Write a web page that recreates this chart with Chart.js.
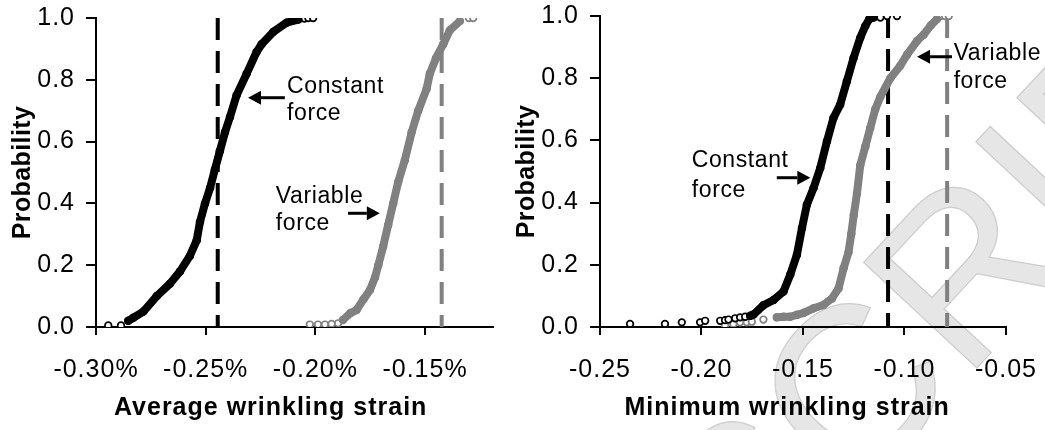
<!DOCTYPE html>
<html><head><meta charset="utf-8">
<script src="https://cdn.jsdelivr.net/npm/chart.js@4.4.0/dist/chart.umd.min.js"></script>
<style>
html,body{margin:0;padding:0;background:#fff;}
#wrap{position:relative;width:1045px;height:430px;overflow:hidden;background:#fff;}
#leftBox{position:absolute;left:0;top:0;width:505px;height:430px;}
#rightBox{position:absolute;left:505px;top:0;width:540px;height:430px;}
</style></head><body>
<div id="wrap">
  <div id="leftBox"><canvas id="c1" width="505" height="430"></canvas></div>
  <div id="rightBox"><canvas id="c2" width="540" height="430"></canvas></div>
</div>
<script>
// ---------- tick labels ----------
const leftXTicks  = [-0.30, -0.25, -0.20, -0.15];          // percent
const rightXTicks = [-0.25, -0.20, -0.15, -0.10, -0.05];
const yTicks      = [0, 0.2, 0.4, 0.6, 0.8, 1.0];

// ---------- left panel: average wrinkling strain (%) ----------
const leftConstX = [-0.2853,-0.2830,-0.2784,-0.2723,-0.2663,-0.2617,-0.2572,-0.2541,-0.2526,-0.2503,-0.2480,-0.2458,-0.2435,-0.2412,-0.2389,-0.2359,-0.2313,-0.2268,-0.2245,-0.2192,-0.2131,-0.2078];
const leftConstP = [0.02,0.03,0.05,0.10,0.14,0.18,0.23,0.28,0.34,0.40,0.45,0.51,0.57,0.63,0.68,0.75,0.82,0.89,0.915,0.955,0.985,0.995];
const leftConstTailX = [-0.2944,-0.2886,-0.2050,-0.2032,-0.2010];
const leftConstTailP = [0.005,0.005,0.998,1.0,1.0];

const leftVarX = [-0.1874,-0.1840,-0.1812,-0.1780,-0.1751,-0.1728,-0.1713,-0.1691,-0.1668,-0.1645,-0.1622,-0.1592,-0.1561,-0.1531,-0.1493,-0.1478,-0.1450,-0.1417,-0.1387,-0.1341];
const leftVarP = [0.023,0.045,0.055,0.09,0.12,0.16,0.20,0.26,0.33,0.40,0.47,0.54,0.63,0.70,0.77,0.82,0.87,0.915,0.96,0.99];
const leftVarTailX = [-0.2025,-0.1988,-0.1956,-0.1926,-0.1896,-0.1300,-0.1280];
const leftVarTailP = [0.008,0.008,0.008,0.01,0.012,1.0,1.0];

const leftMeans = [-0.2445, -0.1424];   // constant, variable

// ---------- right panel: minimum wrinkling strain ----------
const rightConstX = [-0.1760,-0.1744,-0.1695,-0.1645,-0.1596,-0.1563,-0.1530,-0.1505,-0.1481,-0.1448,-0.1415,-0.1382,-0.1350,-0.1317,-0.1284,-0.1251,-0.1218,-0.1193,-0.1174,-0.1152];
const rightConstP = [0.036,0.04,0.07,0.087,0.114,0.168,0.232,0.318,0.393,0.447,0.511,0.597,0.672,0.715,0.79,0.865,0.93,0.968,0.99,0.995];
const rightConstTailX = [-0.2352,-0.2180,-0.2097,-0.2007,-0.1982,-0.1908,-0.1884,-0.1867,-0.1834,-0.1810,-0.1785,-0.1119,-0.1086,-0.1037];
const rightConstTailP = [0.01,0.01,0.015,0.015,0.02,0.02,0.022,0.024,0.028,0.031,0.033,0.995,1.0,1.0];

const rightVarX = [-0.1629,-0.1596,-0.1563,-0.1530,-0.1498,-0.1448,-0.1399,-0.1357,-0.1325,-0.1300,-0.1276,-0.1262,-0.1250,-0.1234,-0.1218,-0.1193,-0.1169,-0.1144,-0.1119,-0.1070,-0.1021,-0.0988,-0.0938,-0.0906,-0.0870,-0.0840];
const rightVarP = [0.031,0.033,0.033,0.039,0.045,0.06,0.071,0.092,0.124,0.189,0.24,0.30,0.36,0.43,0.52,0.58,0.64,0.70,0.74,0.80,0.84,0.875,0.92,0.94,0.97,0.99];
const rightVarTailX = [-0.1884,-0.1843,-0.1810,-0.1777,-0.1752,-0.1695,-0.0823,-0.0800,-0.0782];
const rightVarTailP = [0.006,0.01,0.015,0.015,0.017,0.024,1.0,1.0,1.0];

const rightMeans = [-0.1081, -0.0790];

// ---------- annotations (data coordinates) ----------
const leftNotes = [
  {lines:['Constant','force'], x:-0.2129, p:[0.756,0.670], arrow:{from:-0.2139, to:-0.2307, p:0.742}},
  {lines:['Variable','force'], x:-0.2180, p:[0.400,0.314], arrow:{from:-0.1851, to:-0.1706, p:0.368}}
];
const rightNotes = [
  {lines:['Constant','force'], x:-0.2048, p:[0.515,0.419], arrow:{from:-0.1629, to:-0.1464, p:0.480}},
  {lines:['Variable','force'], x:-0.0758, p:[0.859,0.770], arrow:{from:-0.0766, to:-0.0938, p:0.869}}
];
const watermarkText = 'SCRIPT';

const FONT = "'Liberation Sans', Arial, Helvetica, sans-serif";
const BLACK = '#000000';
const GRAY = '#808080';

function pts(xs, ps) { return xs.map((x, i) => ({x: x, y: ps[i]})); }

// widen glyph spacing of an axis' labels / title slightly (reference text is horizontally stretched)
function spaced(scale, labelSp, titleSp) {
  if (scale.$spaced) return;
  scale.$spaced = true;
  const dl = scale.drawLabels.bind(scale), dt = scale.drawTitle.bind(scale);
  scale.drawLabels = function (a) { const c = this.ctx, o = c.letterSpacing; c.letterSpacing = labelSp; dl(a); c.letterSpacing = o || '0px'; };
  scale.drawTitle = function () { const c = this.ctx, o = c.letterSpacing; c.letterSpacing = titleSp; dt(); c.letterSpacing = o || '0px'; };
}

const watermarkPlugin = {
  id: 'watermark',
  beforeDraw(chart, args, opts) {
    if (!opts.text) return;
    const {ctx} = chart;
    ctx.save();
    ctx.translate(opts.ox, opts.oy);
    ctx.rotate(opts.angle * Math.PI / 180);
    ctx.font = opts.size + 'px ' + FONT;
    ctx.textBaseline = 'alphabetic';
    ctx.textAlign = 'left';
    ctx.fillStyle = '#e6e6e6';
    ctx.fillText(opts.text, 0, 0);
    ctx.strokeStyle = '#cdcdcd';
    ctx.lineWidth = 1.2;
    ctx.strokeText(opts.text, 0, 0);
    ctx.restore();
  }
};

const notesPlugin = {
  id: 'notes',
  afterDatasetsDraw(chart, args, opts) {
    const {ctx} = chart;
    const xs = chart.scales.x, ys = chart.scales.y;
    ctx.save();
    ctx.fillStyle = BLACK;
    ctx.strokeStyle = BLACK;
    ctx.font = '23px ' + FONT;
    ctx.letterSpacing = '0.6px';
    ctx.textBaseline = 'alphabetic';
    ctx.textAlign = 'left';
    (opts.items || []).forEach(n => {
      n.lines.forEach((t, i) => ctx.fillText(t, xs.getPixelForValue(n.x), ys.getPixelForValue(n.p[i])));
      const a = n.arrow;
      const x0 = xs.getPixelForValue(a.from), x1 = xs.getPixelForValue(a.to), y = ys.getPixelForValue(a.p);
      const dir = Math.sign(x1 - x0);
      const head = 13, hw = 7;
      ctx.lineWidth = 3;
      ctx.beginPath();
      ctx.moveTo(x0, y);
      ctx.lineTo(x1 - dir * head, y);
      ctx.stroke();
      ctx.beginPath();
      ctx.moveTo(x1, y);
      ctx.lineTo(x1 - dir * head, y - hw);
      ctx.lineTo(x1 - dir * head, y + hw);
      ctx.closePath();
      ctx.fill();
    });
    ctx.restore();
  }
};

function build(id, cfg) {
  const datasets = [
    {data: pts(cfg.cx, cfg.cp), showLine: true, borderColor: BLACK, borderWidth: 8, tension: 0,
     borderJoinStyle: 'round', borderCapStyle: 'round',
     pointRadius: 3.5, pointBorderWidth: 1.5, pointBackgroundColor: BLACK, pointBorderColor: BLACK},
    {data: pts(cfg.ctx, cfg.ctp), showLine: false,
     pointRadius: 3.3, pointBorderWidth: 1.7, pointBackgroundColor: '#ffffff', pointBorderColor: BLACK},
    {data: pts(cfg.vx, cfg.vp), showLine: true, borderColor: GRAY, borderWidth: 8, tension: 0,
     borderJoinStyle: 'round', borderCapStyle: 'round',
     pointRadius: 3.5, pointBorderWidth: 1.5, pointBackgroundColor: GRAY, pointBorderColor: GRAY},
    {data: pts(cfg.vtx, cfg.vtp), showLine: false,
     pointRadius: 3.3, pointBorderWidth: 1.7, pointBackgroundColor: '#ffffff', pointBorderColor: GRAY},
    {data: [{x: cfg.means[0], y: 1}, {x: cfg.means[0], y: 0}], showLine: true, borderColor: BLACK,
     borderWidth: 4, borderDash: [22, 11], pointRadius: 0},
    {data: [{x: cfg.means[1], y: 1}, {x: cfg.means[1], y: 0}], showLine: true, borderColor: GRAY,
     borderWidth: 4, borderDash: [22, 11], pointRadius: 0}
  ];
  return new Chart(document.getElementById(id), {
    type: 'scatter',
    data: {datasets: datasets},
    plugins: [watermarkPlugin, notesPlugin],
    options: {
      responsive: false,
      animation: false,
      devicePixelRatio: 1,
      layout: {padding: cfg.pad},
      plugins: {legend: {display: false}, tooltip: {enabled: false},
                notes: {items: cfg.notes}, watermark: cfg.watermark || {}},
      scales: {
        x: {
          type: 'linear', min: cfg.xmin, max: cfg.xmax,
          afterBuildTicks: s => { s.ticks = cfg.xticks.map(v => ({value: v})); },
          afterFit: s => { s.height = 103; s.paddingLeft = 0; s.paddingRight = 0; spaced(s, '1px', '1px'); },
          ticks: {color: BLACK, padding: 20, font: {family: FONT, size: 25},
                  callback: v => cfg.fmt(v)},
          grid: {drawOnChartArea: false, drawTicks: true, tickLength: 8, lineWidth: 2, color: BLACK, tickColor: BLACK},
          border: {display: true, color: BLACK, width: 2},
          title: {display: true, text: cfg.xtitle, color: BLACK, padding: {top: 0, bottom: 7},
                  font: {family: FONT, size: 25, weight: 'bold'}}
        },
        y: {
          type: 'linear', min: 0, max: 1,
          afterBuildTicks: s => { s.ticks = yTicks.map(v => ({value: v})); },
          afterFit: s => { s.width = cfg.ywidth; s.paddingTop = 0; s.paddingBottom = 0; spaced(s, '1px', '0.4px'); },
          ticks: {color: BLACK, padding: 11, font: {family: FONT, size: 25},
                  callback: v => v.toFixed(1)},
          grid: {drawOnChartArea: false, drawTicks: true, tickLength: 10, lineWidth: 2, color: BLACK, tickColor: BLACK},
          border: {display: true, color: BLACK, width: 2},
          title: {display: true, text: 'Probability', color: BLACK, padding: {top: cfg.ytpad, bottom: 0},
                  font: {family: FONT, size: 25, weight: 'bold'}}
        }
      }
    }
  });
}

build('c1', {
  cx: leftConstX, cp: leftConstP, ctx: leftConstTailX, ctp: leftConstTailP,
  vx: leftVarX, vp: leftVarP, vtx: leftVarTailX, vtp: leftVarTailP,
  means: leftMeans, xmin: -0.30, xmax: -0.119, xticks: leftXTicks,
  fmt: v => v.toFixed(2) + '%', xtitle: 'Average wrinkling strain      ',
  pad: {left: 0, top: 18, right: 12, bottom: 0}, ywidth: 96, ytpad: 8, notes: leftNotes
});
build('c2', {
  cx: rightConstX, cp: rightConstP, ctx: rightConstTailX, ctp: rightConstTailP,
  vx: rightVarX, vp: rightVarP, vtx: rightVarTailX, vtp: rightVarTailP,
  means: rightMeans, xmin: -0.25, xmax: -0.05, xticks: rightXTicks,
  fmt: v => v.toFixed(2), xtitle: 'Minimum wrinkling strain    ',
  pad: {left: 0, top: 16, right: 39, bottom: 0}, ywidth: 95, ytpad: 7, notes: rightNotes,
  watermark: {text: watermarkText, size: 225, angle: -47, ox: 246, oy: 610}
});
</script>
</body></html>
